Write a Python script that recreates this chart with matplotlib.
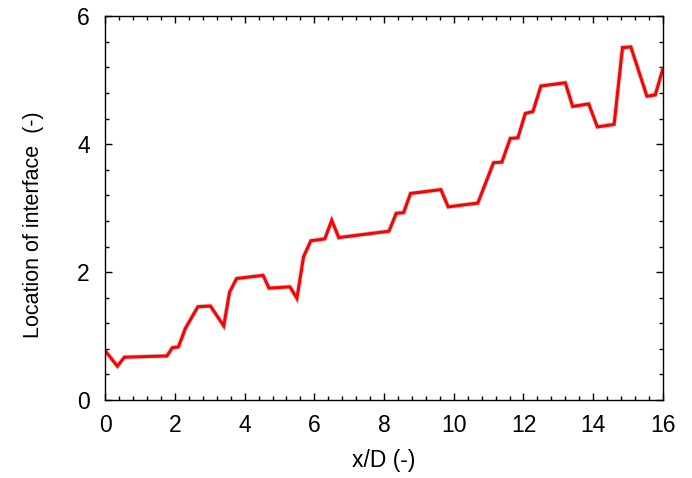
import matplotlib
matplotlib.use("Agg")
import matplotlib.pyplot as plt
from matplotlib.ticker import MultipleLocator

plt.rcParams['font.family'] = ['Liberation Sans', 'DejaVu Sans']

# interface location
x = [0.0, 0.35, 0.55, 1.77, 1.93, 2.10, 2.30, 2.66, 3.02, 3.40, 3.57, 3.77,
     4.53, 4.70, 5.30, 5.50, 5.69, 5.90, 6.30, 6.50, 6.70, 8.14, 8.35, 8.56,
     8.76, 9.63, 9.84, 10.69, 11.14, 11.38, 11.62, 11.84, 12.05, 12.27, 12.50,
     13.20, 13.41, 13.87, 14.12, 14.60, 14.84, 15.08, 15.54, 15.78, 16.0]
y = [0.77, 0.53, 0.67, 0.69, 0.82, 0.83, 1.12, 1.46, 1.47, 1.16, 1.69, 1.90,
     1.95, 1.75, 1.77, 1.59, 2.24, 2.49, 2.52, 2.81, 2.54, 2.64, 2.92, 2.93,
     3.23, 3.29, 3.02, 3.08, 3.71, 3.72, 4.09, 4.10, 4.48, 4.51, 4.91,
     4.96, 4.59, 4.63, 4.27, 4.31, 5.51, 5.52, 4.75, 4.77, 5.18]

fig = plt.figure(figsize=(6.92, 4.78), dpi=100)
ax = fig.add_axes([0.152, 0.163, 0.806, 0.803])

ax.plot(x, y, color='#a0a0a0', lw=3.4, alpha=0.5, solid_joinstyle='miter')
ax.plot(x, y, color='#ff0000', lw=2.2, solid_joinstyle='miter')

ax.set_xlim(0, 16)
ax.set_ylim(0, 6)
ax.xaxis.set_major_locator(MultipleLocator(2))
ax.xaxis.set_minor_locator(MultipleLocator(0.4))
ax.yaxis.set_major_locator(MultipleLocator(2))
ax.yaxis.set_minor_locator(MultipleLocator(0.4))
ax.tick_params(which='both', direction='in', top=True, right=True,
               labelsize=16.5, width=1)
ax.tick_params(which='major', length=5)
ax.tick_params(which='minor', length=3)
ax.tick_params(axis='x', which='major', pad=10)
ax.tick_params(axis='y', which='major', pad=11)
for s in ax.spines.values():
    s.set_linewidth(1)

ax.set_xlabel('x/D (-)', fontsize=16.5, labelpad=9)
ax.set_ylabel('Location of interface  (-)', fontsize=15.5)
ax.yaxis.set_label_coords(-0.11, 0.458)

fig.savefig('out.png', dpi=100)
